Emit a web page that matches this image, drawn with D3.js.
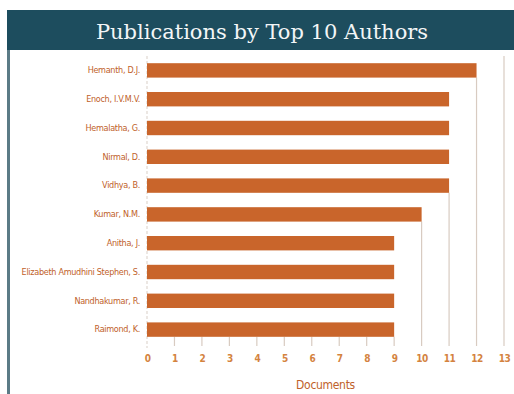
<!DOCTYPE html>
<html>
<head>
<meta charset="utf-8">
<script src="https://cdn.jsdelivr.net/npm/d3@7"></script>
<style>
  html, body { margin: 0; padding: 0; background: #ffffff; }
  svg { display: block; }
</style>
</head>
<body>
<svg id="chart" width="514" height="394"></svg>
<script>
// Top 10 authors by number of documents
const authors = [
  "Hemanth, D.J.",
  "Enoch, I.V.M.V.",
  "Hemalatha, G.",
  "Nirmal, D.",
  "Vidhya, B.",
  "Kumar, N.M.",
  "Anitha, J.",
  "Elizabeth Amudhini Stephen, S.",
  "Nandhakumar, R.",
  "Raimond, K."
];
const documents = [12, 11, 11, 11, 11, 10, 9, 9, 9, 9];
const xTicks = [0, 1, 2, 3, 4, 5, 6, 7, 8, 9, 10, 11, 12, 13];
const titleText = "Publications by Top 10 Authors";
const xTitle = "Documents";

const W = 514, H = 394;
const svg = d3.select("#chart");

// Frame: dark header band and left rule
svg.append("rect").attr("x", 7).attr("y", 10).attr("width", W - 7).attr("height", 40)
  .attr("fill", "#1d4d5e");
svg.append("rect").attr("x", 7).attr("y", 50).attr("width", 3).attr("height", H - 50)
  .attr("fill", "#5b7b86");

svg.append("text")
  .attr("x", 262).attr("y", 39)
  .attr("text-anchor", "middle")
  .attr("font-family", "'DejaVu Serif', 'Liberation Serif', serif")
  .attr("font-size", 21)
  .attr("fill", "#f3f6f7")
  .text(titleText);

// Plot area
const plot = { left: 147, right: 504, top: 56, bottom: 344 };

const x = d3.scaleLinear().domain([0, 13]).range([plot.left, plot.right]);
const y = d3.scaleBand().domain(authors).range([plot.top, plot.bottom]).paddingInner(0.5).paddingOuter(0.25);

const labelFont = "'DejaVu Sans Condensed', 'Liberation Sans Narrow', sans-serif";
const orange = "#c9652b";

// Vertical gridlines, shown beneath the lowest bar that reaches each tick
xTicks.filter(t => t > 0).forEach(t => {
  let startY = plot.top;
  documents.forEach((v, i) => {
    if (v >= t) startY = y(authors[i]) + y.bandwidth();
  });
  svg.append("line")
    .attr("x1", x(t)).attr("x2", x(t))
    .attr("y1", startY).attr("y2", plot.bottom + 2)
    .attr("stroke", "#d8cbc1").attr("stroke-width", 1.2);
});

// Category axis line
svg.append("line")
  .attr("x1", plot.left).attr("x2", plot.left)
  .attr("y1", plot.top).attr("y2", plot.bottom + 4)
  .attr("stroke", "#d9cfc7").attr("stroke-width", 1)
  .attr("stroke-dasharray", "3,2");

// Bars
svg.append("g").selectAll("rect")
  .data(authors)
  .join("rect")
  .attr("x", x(0))
  .attr("y", d => y(d))
  .attr("width", (d, i) => x(documents[i]) - x(0))
  .attr("height", y.bandwidth())
  .attr("fill", orange);

// Category labels
const yAxis = svg.append("g")
  .attr("transform", `translate(${plot.left},0)`)
  .call(d3.axisLeft(y).tickSize(0).tickPadding(7));
yAxis.select(".domain").remove();
yAxis.selectAll("text")
  .attr("font-family", labelFont)
  .attr("font-size", 9)
  .attr("letter-spacing", -0.3)
  .attr("fill", "#c0612a");

// Value axis
const xAxis = svg.append("g")
  .attr("transform", `translate(0,${plot.bottom})`)
  .call(d3.axisBottom(x).tickValues(xTicks).tickFormat(d3.format("d")).tickSize(0).tickPadding(11));
xAxis.select(".domain").remove();
xAxis.selectAll("text")
  .attr("font-family", labelFont)
  .attr("font-size", 10)
  .attr("font-weight", "bold")
  .attr("letter-spacing", -0.5)
  .attr("fill", "#d4833f");

svg.append("text")
  .attr("x", (plot.left + plot.right) / 2)
  .attr("y", 389)
  .attr("text-anchor", "middle")
  .attr("font-family", labelFont)
  .attr("font-size", 12)
  .attr("letter-spacing", -0.3)
  .attr("fill", "#c0612a")
  .text(xTitle);
</script>
</body>
</html>
